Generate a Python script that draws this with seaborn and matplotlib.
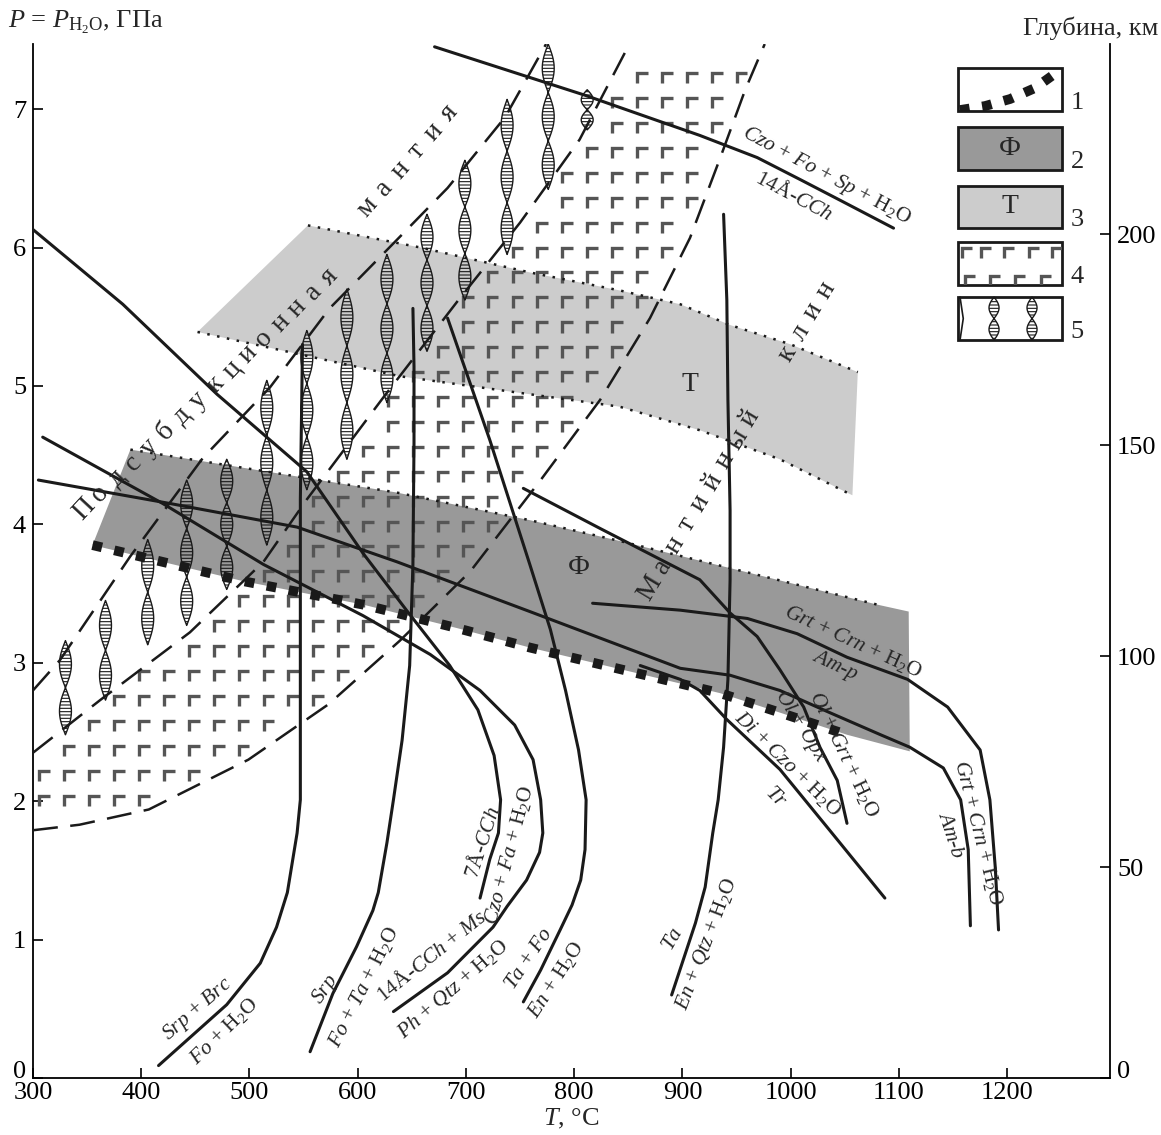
import numpy as np
import pandas as pd
import seaborn as sns
import matplotlib.pyplot as plt
from matplotlib.patches import Polygon, Rectangle
from matplotlib.path import Path
from matplotlib.collections import LineCollection
from matplotlib.transforms import ScaledTranslation

# ---- reaction curves (T in C, P in GPa) ----
czo_T = [671, 810, 916, 969, 1009, 1046, 1095]
czo_P = [7.45, 7.10, 6.81, 6.65, 6.49, 6.34, 6.14]

srp_brc_T = [549, 547, 547, 547, 544, 535, 525, 510, 479, 416]
srp_brc_P = [5.30, 4.18, 2.73, 2.01, 1.77, 1.34, 1.09, 0.83, 0.53, 0.09]

srp_T = [651, 652, 652, 651, 648, 641, 633, 627, 619, 614, 599, 577, 556]
srp_P = [5.56, 5.14, 4.59, 3.71, 2.98, 2.44, 2.01, 1.70, 1.34, 1.21, 0.95, 0.61, 0.19]

cch7_T = [300, 383, 470, 553, 605, 646, 685, 711, 726, 732, 730, 722, 713]
cch7_P = [6.13, 5.59, 4.94, 4.38, 3.79, 3.37, 2.98, 2.66, 2.33, 2.01, 1.77, 1.58, 1.30]

cch14_T = [309, 420, 513, 605, 667, 713, 745, 762, 769, 771, 768, 756, 738, 725, 683, 633]
cch14_P = [4.63, 4.15, 3.71, 3.34, 3.06, 2.80, 2.55, 2.30, 2.01, 1.77, 1.63, 1.43, 1.24, 1.09, 0.76, 0.48]

tafo_T = [683, 722, 759, 778, 792, 804, 811, 810, 806, 798, 787, 769, 753]
tafo_P = [5.49, 4.61, 3.71, 3.24, 2.80, 2.37, 2.01, 1.65, 1.43, 1.25, 1.07, 0.78, 0.55]

ta_T = [938, 941, 942, 944, 944, 942, 938, 933, 928, 921, 912, 890]
ta_P = [6.24, 5.62, 4.90, 4.10, 3.60, 2.88, 2.39, 2.01, 1.77, 1.38, 1.12, 0.60]

tr_T = [861, 898, 916, 941, 990, 1036, 1087]
tr_P = [2.98, 2.88, 2.80, 2.59, 2.23, 1.79, 1.30]

olgrt_T = [753, 824, 916, 944, 969, 990, 1012, 1027, 1043, 1052]
olgrt_P = [4.26, 3.97, 3.60, 3.36, 3.19, 2.95, 2.68, 2.39, 2.15, 1.84]

amp_T = [817, 898, 960, 1006, 1052, 1108, 1145, 1175, 1184, 1189, 1192]
amp_P = [3.43, 3.38, 3.32, 3.21, 3.04, 2.88, 2.68, 2.37, 2.01, 1.52, 1.07]

amb_T = [305, 427, 544, 636, 759, 898, 944, 990, 1036, 1083, 1110, 1141, 1157, 1164, 1166]
amb_P = [4.32, 4.15, 3.98, 3.73, 3.37, 2.96, 2.91, 2.80, 2.64, 2.48, 2.39, 2.24, 2.01, 1.65, 1.10]

curves = [(czo_T, czo_P), (srp_brc_T, srp_brc_P), (srp_T, srp_P), (cch7_T, cch7_P),
          (cch14_T, cch14_P), (tafo_T, tafo_P), (ta_T, ta_P), (tr_T, tr_P),
          (olgrt_T, olgrt_P), (amp_T, amp_P), (amb_T, amb_P)]

# ---- slab boundaries (dashed) ----
slab_top_T = [300, 325, 390, 457, 519, 574, 623, 683, 736, 754, 774]
slab_top_P = [2.80, 3.02, 3.77, 4.48, 4.99, 5.56, 5.95, 6.43, 6.94, 7.19, 7.47]
crust_top_T = [300, 362, 445, 513, 553, 623, 692, 750, 805, 851]
crust_top_P = [2.35, 2.73, 3.22, 3.73, 4.18, 4.91, 5.61, 6.18, 6.78, 7.47]
crust_bot_T = [300, 343, 407, 499, 573, 639, 704, 769, 824, 870, 907, 935, 958, 976]
crust_bot_P = [1.79, 1.83, 1.94, 2.30, 2.70, 3.16, 3.66, 4.32, 4.90, 5.49, 6.07, 6.65, 7.14, 7.47]

# ---- fluid bands ----
t_top_T = [554, 658, 759, 842, 898, 944, 1000, 1062]
t_top_P = [6.16, 6.00, 5.82, 5.69, 5.59, 5.44, 5.30, 5.10]
t_bot_T = [452, 639, 759, 842, 916, 990, 1057]
t_bot_P = [5.39, 5.07, 4.94, 4.85, 4.68, 4.47, 4.21]

f_top_T = [390, 636, 759, 842, 972, 1080, 1109]
f_top_P = [4.54, 4.23, 4.03, 3.88, 3.63, 3.42, 3.37]
f_bot_T = [355, 494, 605, 692, 759, 898, 935, 990, 1052, 1110]
f_bot_P = [3.85, 3.59, 3.42, 3.25, 3.11, 2.85, 2.78, 2.64, 2.48, 2.36]

# ---- wavy (5) symbols ----
wavy_T = [330, 367, 406, 442, 479, 516, 553, 590, 627, 664, 699, 738, 776, 812]
wavy_Pbot = [2.48, 2.73, 3.13, 3.27, 3.53, 3.85, 4.25, 4.47, 4.88, 5.25, 5.62, 5.95, 6.42, 6.85]
wavy_Ptop = [3.16, 3.45, 3.89, 4.32, 4.47, 5.04, 5.40, 5.70, 5.95, 6.24, 6.63, 7.07, 7.47, 7.14]

H2O = r'H$_2$O'
labels = [
    (r'$Srp$ + $Brc$', 452, 0.50, 41),
    (r'$Fo$ + ' + H2O, 477, 0.34, 44),
    (r'$Srp$', 570, 0.64, 55),
    (r'$Fo$ + $Ta$ + ' + H2O, 606, 0.66, 63),
    (r'14Å-$CCh$ + $Ms$', 668, 0.88, 38.5),
    (r'$Ph$ + $Qtz$ + ' + H2O, 688, 0.64, 41),
    (r'7Å-$CCh$', 716, 1.70, 72),
    (r'$Czo$ + $Fa$ + ' + H2O, 740, 1.61, 75),
    (r'$Ta$ + $Fo$', 759, 0.86, 56),
    (r'$En$ + ' + H2O, 783, 0.71, 57),
    (r'$Ta$', 892, 1.00, 60),
    (r'$En$ + $Qtz$ + ' + H2O, 922, 0.97, 69),
    (r'$Di$ + $Czo$ + ' + H2O, 997, 2.27, -44.5),
    (r'$Tr$', 986, 2.03, -45),
    (r'$Ol$ + $Opx$', 1009, 2.54, -58),
    (r'$Ol$ + $Grt$ + ' + H2O, 1049, 2.34, -64.6),
    (r'$Grt$ + $Crn$ + ' + H2O, 1058, 3.15, -24.7),
    (r'$Am$-$p$', 1041, 2.98, -25),
    (r'$Grt$ + $Crn$ + ' + H2O, 1173, 1.77, -76),
    (r'$Am$-$b$', 1147, 1.75, -72),
    (r'$Czo$ + $Fo$ + $Sp$ + ' + H2O, 1033, 6.52, -28),
    (r'14Å-$CCh$', 1003, 6.37, -28),
]

# spaced region names: text, start (T, P), end (T, P), rotation
region_names = [
    ('Подсубдукционная', (347, 4.11), (574, 5.79), 47),
    ('мантия', (609, 6.29), (685, 6.97), 48.5),
    ('Мантийный  клин', (870, 3.54), (1032, 5.69), 59),
]

sns.set_theme(style='ticks')
plt.rcParams['font.family'] = ['Liberation Serif', 'DejaVu Serif']
plt.rcParams['mathtext.fontset'] = 'custom'
plt.rcParams['mathtext.rm'] = 'Liberation Serif'
plt.rcParams['mathtext.it'] = 'Liberation Serif:italic'
plt.rcParams['hatch.linewidth'] = 0.8
plt.rcParams['axes.edgecolor'] = 'black'
plt.rcParams['xtick.color'] = 'black'
plt.rcParams['ytick.color'] = 'black'

DARK = '#999999'
LIGHT = '#cccccc'
GMARK = '#555555'
FS = 19

fig = plt.figure(figsize=(11.61, 11.35), dpi=100)
ax = fig.add_axes([0.0284, 0.0502, 0.9277, 0.9110])
ax.set_xlim(300, 1295)
ax.set_ylim(0, 7.47)

# bands
ax.add_patch(Polygon(np.column_stack([t_top_T + t_bot_T[::-1], t_top_P + t_bot_P[::-1]]),
                     closed=True, facecolor=LIGHT, edgecolor='none', zorder=1))
ax.add_patch(Polygon(np.column_stack([f_top_T + f_bot_T[::-1], f_top_P + f_bot_P[::-1]]),
                     closed=True, facecolor=DARK, edgecolor='none', zorder=1.1))
dots = dict(color='k', lw=1.8, ls=(0, (1, 3)), zorder=4)
ax.plot(t_top_T, t_top_P, **dots)
ax.plot(t_bot_T, t_bot_P, **dots)
ax.plot(f_top_T[:-1], f_top_P[:-1], **dots)

# basalt crust pattern (4)
crust = Path(np.column_stack([crust_top_T + crust_bot_T[::-1], crust_top_P + crust_bot_P[::-1]]))
gT, gP = np.meshgrid(np.arange(306, 1000, 23.0), np.arange(1.86, 7.44, 0.18))
anchor = np.column_stack([gT.ravel(), gP.ravel()])
ok = crust.contains_points(anchor) & crust.contains_points(anchor + [9, -0.07])
segs = []
for t, p in anchor[ok]:
    segs.append([(t, p - 0.075), (t, p), (t + 10, p)])
ax.add_collection(LineCollection(segs, colors=GMARK, linewidths=2.4, zorder=2,
                                 capstyle='butt', joinstyle='miter'))


def wavy(axis, x0, y0, y1, w, n, transform=None):
    y = np.linspace(y0, y1, 120)
    s = np.sin(np.pi * n * (y - y0) / (y1 - y0))
    kw = {} if transform is None else {'transform': transform}
    return axis.fill_betweenx(y, x0 - w * s, x0 + w * s, facecolor='none', edgecolor='k',
                              hatch='-----', lw=1.0, zorder=3, **kw)


for t0, pb, pt in zip(wavy_T, wavy_Pbot, wavy_Ptop):
    n = max(2, int(round((pt - pb) / 0.36)))
    wavy(ax, t0, pb, pt, 5.5, n)

# dashed slab boundaries
dash = dict(color='k', lw=1.8, ls=(0, (10, 5)), zorder=3.5)
ax.plot(slab_top_T, slab_top_P, **dash)
ax.plot(crust_top_T, crust_top_P, **dash)
ax.plot(crust_bot_T, crust_bot_P, **dash)

# reaction curves
for T, P in curves:
    sns.lineplot(x=T, y=P, sort=False, estimator=None, color='k', lw=2.2, ax=ax, zorder=4)

# top of fluid zone (1)
ax.plot(f_bot_T[:-1], f_bot_P[:-1], color='k', lw=7, ls=(0, (1.0, 1.3)),
        dash_capstyle='butt', zorder=5)

# labels
for s, t, p, r in labels:
    ax.text(t, p, s, rotation=r, fontsize=15.5, ha='center', va='center',
            rotation_mode='anchor', zorder=6)
ax.text(804, 3.69, 'Ф', fontsize=20, ha='center', va='center', zorder=6)
ax.text(907, 5.01, 'Т', fontsize=20, ha='center', va='center', zorder=6)
for name, (t0, p0), (t1, p1), rot in region_names:
    n = len(name)
    for i, ch in enumerate(name):
        if ch == ' ':
            continue
        f = i / (n - 1)
        ax.text(t0 + f * (t1 - t0), p0 + f * (p1 - p0), ch, rotation=rot, fontsize=20,
                ha='center', va='center', rotation_mode='anchor', zorder=6)


# ---- legend boxes (axes fraction) ----
def pxa(x, y):
    return ((x - 33) / 1077, (1078 - y) / 1034)


boxes = [(68, 111), (127, 170), (186, 228), (242, 285), (297, 340)]
fills = ['white', DARK, LIGHT, 'white', 'white']
rects = []
for i, ((top, bot), fc) in enumerate(zip(boxes, fills)):
    x0, y0 = pxa(958, bot)
    x1, y1 = pxa(1062, top)
    rc = Rectangle((x0, y0), x1 - x0, y1 - y0, transform=ax.transAxes, facecolor=fc,
                   edgecolor='k', lw=2, zorder=7)
    ax.add_patch(rc)
    rects.append(rc)
    nx, ny = pxa(1077, bot - 8)
    ax.text(nx, ny, str(i + 1), transform=ax.transAxes, fontsize=FS, ha='center',
            va='center', zorder=8)

lx, ly = zip(*[pxa(x, y) for x, y in [(960, 110), (985, 106), (1010, 99), (1035, 88), (1060, 70)]])
ln, = ax.plot(lx, ly, transform=ax.transAxes, color='k', lw=7, ls=(0, (1.0, 1.3)),
              dash_capstyle='butt', zorder=8)
ln.set_clip_path(rects[0])
cx, cy = pxa(1010, 148)
ax.text(cx, cy, 'Ф', transform=ax.transAxes, fontsize=20, ha='center', va='center', zorder=8)
cx, cy = pxa(1010, 206)
ax.text(cx, cy, 'Т', transform=ax.transAxes, fontsize=20, ha='center', va='center', zorder=8)

lsegs = []
for x, y in [(962, 248), (981, 248), (1004, 248), (1029, 248), (1052, 248),
             (965, 276), (990, 276), (1015, 276), (1041, 276)]:
    lsegs.append([pxa(x, y + 10), pxa(x, y), pxa(x + 10, y)])
lc = LineCollection(lsegs, colors=GMARK, linewidths=2.4, transform=ax.transAxes, zorder=8,
                    capstyle='butt', joinstyle='miter')
ax.add_collection(lc)
lc.set_clip_path(rects[3])

for x in [994, 1032]:
    xa, ya0 = pxa(x, 340)
    _, ya1 = pxa(x, 297)
    w = wavy(ax, xa, ya0, ya1, 5 / 1077, 2, transform=ax.transAxes)
    w.set_zorder(8)
xa, ya0 = pxa(960, 340)
_, ya1 = pxa(960, 297)
ax.plot([xa, xa + 0.003, xa], [ya0, (ya0 + ya1) / 2, ya1], transform=ax.transAxes,
        color='k', lw=1.2, zorder=8)

# ---- axes ----
ax.spines['top'].set_visible(False)
ax.spines['right'].set_visible(False)
for sp in ['left', 'bottom']:
    ax.spines[sp].set_linewidth(1.3)
ax.set_xticks(range(300, 1201, 100))
ax.set_yticks(range(0, 8))
ax.tick_params(direction='in', length=7, width=1.2, labelsize=FS, top=False, right=False)
ax.tick_params(axis='x', pad=3)
ax.tick_params(axis='y', pad=5)
ax.set_xlabel(r'$T$, °C', fontsize=FS, labelpad=2)
ax.set_ylabel('')

sec = ax.secondary_yaxis('right', functions=(lambda p: p * 32.8, lambda d: d / 32.8))
sec.set_yticks([0, 50, 100, 150, 200])
sec.tick_params(direction='in', length=7, width=1.2, labelsize=FS, pad=5)
sec.spines['right'].set_linewidth(1.3)

lift = ScaledTranslation(0, 6 / 72, fig.dpi_scale_trans)
ax.get_yticklabels()[0].set_transform(ax.get_yticklabels()[0].get_transform() + lift)
sec.get_yticklabels()[0].set_transform(sec.get_yticklabels()[0].get_transform() + lift)

fig.text(8 / 1161, 1 - 22 / 1135, r'$P$ = $P_{\mathrm{H_2O}}$, ГПа', fontsize=FS,
         ha='left', va='center')
fig.text(1158 / 1161, 1 - 28 / 1135, 'Глубина, км', fontsize=FS, ha='right', va='center')

fig.savefig('out.png', dpi=100)
